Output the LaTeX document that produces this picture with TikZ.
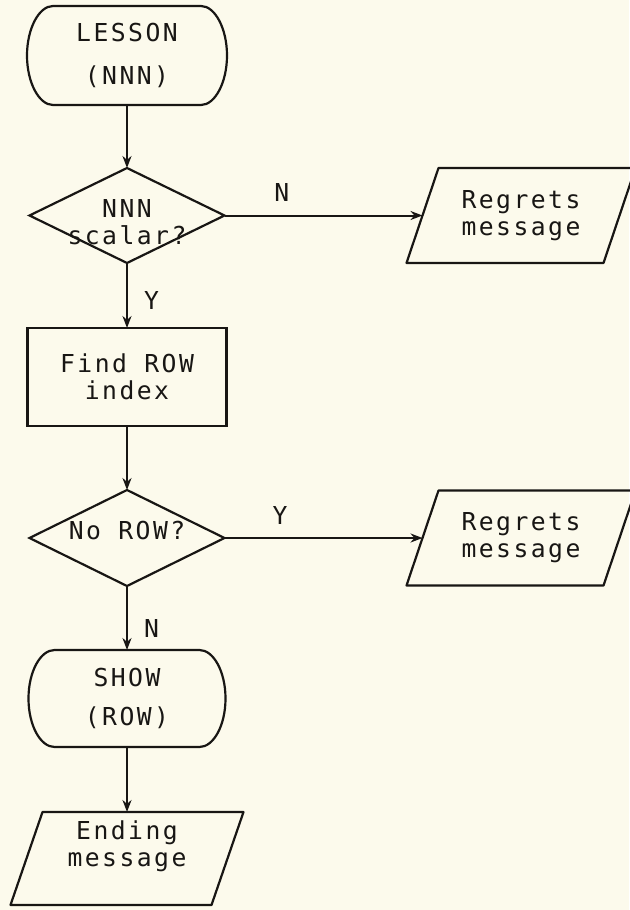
\documentclass[tikz,border=0pt]{standalone}
\usepackage{fontspec}
\newfontfamily\plotfont[LetterSpace=10]{DejaVu Sans Mono}
\usetikzlibrary{positioning,arrows.meta,shapes.geometric}
\definecolor{paper}{RGB}{252,250,236}
\definecolor{ink}{RGB}{24,22,20}

\begin{document}
\begin{tikzpicture}[
  x=1pt, y=1pt,
  font=\plotfont\fontsize{24.7}{27}\selectfont,
  every node/.style={text=ink},
  term/.style={minimum width=200pt, minimum height=99pt, align=center, outer sep=0pt,
    append after command={\pgfextra{\draw[ink, line width=2.2pt]
      ([xshift=26pt]\tikzlastnode.north west) -- ([xshift=-26pt]\tikzlastnode.north east)
      .. controls ([xshift=-12pt]\tikzlastnode.north east) and ([yshift=27pt]\tikzlastnode.east) .. (\tikzlastnode.east)
      .. controls ([yshift=-27pt]\tikzlastnode.east) and ([xshift=-12pt]\tikzlastnode.south east) .. ([xshift=-26pt]\tikzlastnode.south east)
      -- ([xshift=26pt]\tikzlastnode.south west)
      .. controls ([xshift=12pt]\tikzlastnode.south west) and ([yshift=-27pt]\tikzlastnode.west) .. (\tikzlastnode.west)
      .. controls ([yshift=27pt]\tikzlastnode.west) and ([xshift=12pt]\tikzlastnode.north west) .. ([xshift=26pt]\tikzlastnode.north west)
      -- cycle;}}},
  io/.style={minimum width=197pt, minimum height=95pt, align=center, outer sep=0pt,
    append after command={\pgfextra{\draw[ink, line width=2.2pt, line join=round]
      ([xshift=16pt]\tikzlastnode.north west) -- ([xshift=16pt]\tikzlastnode.north east)
      -- ([xshift=-16pt]\tikzlastnode.south east) -- ([xshift=-16pt]\tikzlastnode.south west) -- cycle;}}},
  decision/.style={diamond, draw=ink, line width=2.2pt, minimum width=195pt, minimum height=95pt, inner sep=0pt, outer sep=0pt},
  proc/.style={rectangle, draw=ink, line width=2.2pt, minimum width=199pt, minimum height=98pt, align=center, outer sep=0pt},
  flow/.style={-{Stealth[length=12pt, width=9pt]}, ink, line width=2pt},
  yn/.style={inner sep=3pt}
]
  % page
  \fill[paper] (0,0) rectangle (629,-910);
  \useasboundingbox (0,0) rectangle (629,-910);

  % main column
  \node[term] (lesson) at (127,-55.5) {LESSON\\[16pt](NNN)};
  \node[decision, below=63pt of lesson, label={[yshift=-6.5pt, align=center]center:{NNN\\scalar?}}] (nnn) {};
  \node[proc, below=65pt of nnn] (find) {Find ROW\\index};
  \node[decision, below=64pt of find, minimum height=96pt, label={[yshift=7pt]center:{No ROW?}}] (norow) {};
  \node[term, below=64pt of norow, minimum width=197pt, minimum height=97pt] (show) {SHOW\\[12pt](ROW)};
  \node[io, below=65pt of show, minimum width=201pt, minimum height=93pt, label={[yshift=12pt, align=center]center:{Ending\\message}}] (ending) {};

  % side outputs
  \node[io, right=198pt of nnn] (regrets1) {Regrets\\message};
  \node[io, right=198pt of norow] (regrets2) {Regrets\\message};

  \draw[flow] (lesson) -- (nnn);
  \draw[flow] (nnn) -- node[yn, pos=0.57, right=13pt] {Y} (find);
  \draw[flow] (nnn) -- node[yn, pos=0.29, above=10pt] {N} (regrets1);
  \draw[flow] (find) -- (norow);
  \draw[flow] (norow) -- node[yn, pos=0.28, above=10pt] {Y} (regrets2);
  \draw[flow] (norow) -- node[yn, pos=0.66, right=13pt] {N} (show);
  \draw[flow] (show) -- (ending);
\end{tikzpicture}
\end{document}
